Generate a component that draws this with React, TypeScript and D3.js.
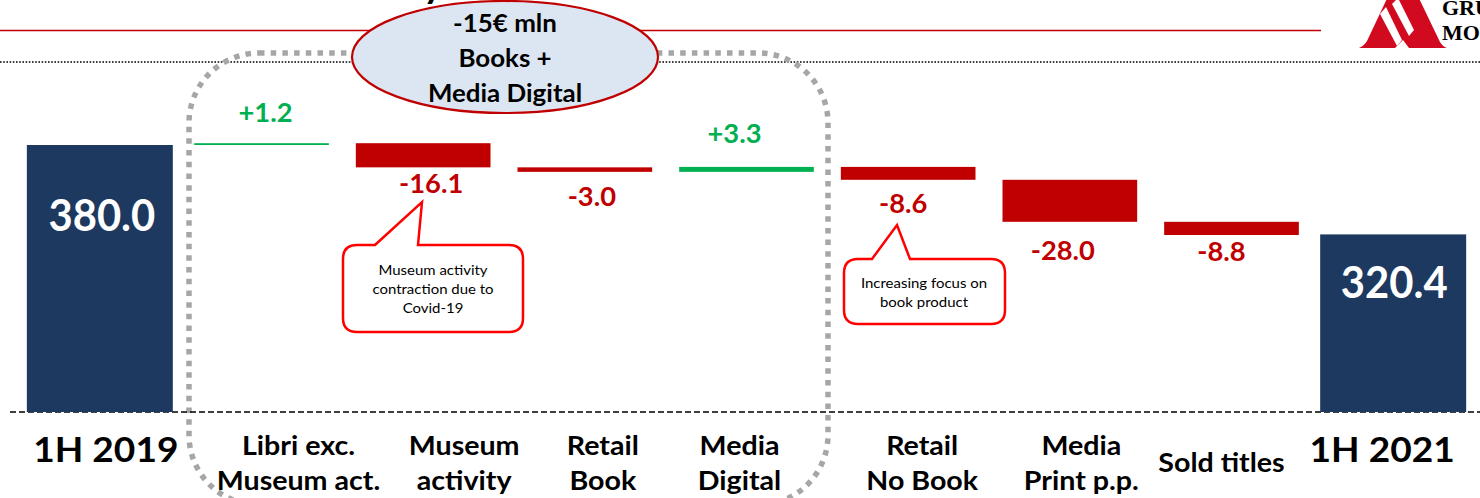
import React from "react";
import * as d3 from "d3";

// ---------- data ----------
const categoryLines: string[][] = [
  ["1H 2019"],
  ["Libri exc.", "Museum act."],
  ["Museum", "activity"],
  ["Retail", "Book"],
  ["Media", "Digital"],
  ["Retail", "No Book"],
  ["Media", "Print p.p."],
  ["Sold titles"],
  ["1H 2021"],
];
const barKinds = ["total", "delta", "delta", "delta", "delta", "delta", "delta", "delta", "total"];
const values = [380.0, 1.2, -16.1, -3.0, 3.3, -8.6, -28.0, -8.8, 320.4];
const valueLabels = ["380.0", "+1.2", "-16.1", "-3.0", "+3.3", "-8.6", "-28.0", "-8.8", "320.4"];
const axisFloor = 202;
const ellipseLines = ["-15€ mln", "Books +", "Media Digital"];
const callout1Lines = ["Museum activity", "contraction due to", "Covid-19"];
const callout2Lines = ["Increasing focus on", "book product"];

// ---------- layout tweaks (label nudges, not data) ----------
const valueDx = [2, 4, 8, 7, -12, -5, -7, -10, 1];
const valueDy = [86, -21, 26, 34, -24, 33, 38, 26, 64];
const catDx = [6, 37, 41, 18, -7, 14, 11.5, -10, -11];

const W = 1480;
const H = 498;
const FONT = "Lato, 'Open Sans', sans-serif";
const NAVY = "#1d3960";
const RED = "#c00000";
const GREEN = "#00b050";

function SText(props: any) {
  const { x, y, sx = 1, anchor = "middle", children, ...rest } = props;
  return (
    <text
      transform={`translate(${x},${y}) scale(${sx},1)`}
      textAnchor={anchor}
      fontFamily={FONT}
      {...rest}
    >
      {children}
    </text>
  );
}

function calloutPath(x0: number, y0: number, x1: number, y1: number, r: number, pa: number, tipX: number, tipY: number, pb: number) {
  return [
    `M${x0 + r},${y0}`,
    `L${pa},${y0}`,
    `L${tipX},${tipY}`,
    `L${pb},${y0}`,
    `L${x1 - r},${y0}`,
    `Q${x1},${y0} ${x1},${y0 + r}`,
    `L${x1},${y1 - r}`,
    `Q${x1},${y1} ${x1 - r},${y1}`,
    `L${x0 + r},${y1}`,
    `Q${x0},${y1} ${x0},${y1 - r}`,
    `L${x0},${y0 + r}`,
    `Q${x0},${y0} ${x0 + r},${y0}`,
    "Z",
  ].join(" ");
}

export default function App() {
  const ids = values.map((_, i) => String(i));
  const x = d3.scaleBand().domain(ids).range([19, 1474]).paddingInner(0).paddingOuter(0);
  const y = d3.scaleLinear().domain([axisFloor, d3.max(values) as number]).range([412, 145]);

  // waterfall
  let running = 0;
  const bars = values.map((v, i) => {
    let lo: number, hi: number;
    if (barKinds[i] === "total") {
      lo = axisFloor;
      hi = v;
      running = v;
    } else {
      const start = running;
      const end = running + v;
      lo = Math.min(start, end);
      hi = Math.max(start, end);
      running = end;
    }
    const bw = x.bandwidth() * (barKinds[i] === "total" ? 0.903 : 0.833);
    const cx = (x(String(i)) as number) + x.bandwidth() / 2;
    return {
      i,
      v,
      cx,
      x: cx - bw / 2,
      w: bw,
      top: y(hi),
      bottom: y(lo),
      color: barKinds[i] === "total" ? NAVY : v >= 0 ? GREEN : RED,
    };
  });

  const baseY = y(axisFloor);

  return (
    <svg
      width={W}
      height={H}
      viewBox={`0 0 ${W} ${H}`}
      style={{ position: "absolute", left: 0, top: 0, background: "#fff" }}
    >
      <rect x={0} y={0} width={W} height={H} fill="#fff" />

      {/* clipped title remnant */}
      <SText x={433} y={-2} fontSize={38} fontWeight={700} fill="#000">y</SText>

      {/* header lines */}
      <line x1={0} x2={1321} y1={30.5} y2={30.5} stroke={RED} strokeWidth={1.5} />
      <line x1={0} x2={W} y1={62} y2={62} stroke="#000" strokeWidth={1.6} strokeDasharray="1.6 1.6" />

      {/* logo */}
      <g>
        <path d="M1392,-12 L1414,-12 L1440,42 Q1443,47 1447,48 L1409,48 L1403,40 L1395,48 L1359,48 Q1364,46 1367,41 Z" fill="#d20a20" />
        <path d="M1380,14 L1386,7 L1402,40 L1397,46 Z" fill="#fff" />
        <path d="M1392,4 L1398,-2 L1414,30 L1409,36 Z" fill="#fff" />
        <text x={1442} y={14.5} fontFamily="'Liberation Serif', 'DejaVu Serif', serif" fontWeight={700} fontSize={22} fill="#000">GRUPPO</text>
        <text x={1442} y={39.5} fontFamily="'Liberation Serif', 'DejaVu Serif', serif" fontWeight={700} fontSize={22} fill="#000">MONDADORI</text>
      </g>

      {/* dotted grouping frame */}
      <rect x={189} y={53} width={639} height={452} rx={70} ry={70} fill="none" stroke="#a6a6a6" strokeWidth={5.5} strokeDasharray="5.5 6.2" />

      {/* baseline */}
      <line x1={10} x2={W} y1={baseY} y2={baseY} stroke="#000" strokeWidth={1.6} strokeDasharray="6 3" />

      {/* bars */}
      {bars.map((b) => (
        <rect key={b.i} x={b.x} y={b.top} width={b.w} height={Math.max(b.bottom - b.top, 1.3)} fill={b.color} />
      ))}

      {/* value labels */}
      {bars.map((b) => {
        const isTotal = barKinds[b.i] === "total";
        const anchorY = isTotal ? b.top : b.v >= 0 ? b.top : b.bottom;
        return (
          <SText
            key={"v" + b.i}
            x={b.cx + valueDx[b.i]}
            y={anchorY + valueDy[b.i]}
            sx={isTotal ? 0.95 : 1.05}
            fontSize={isTotal ? 44 : 26}
            fontWeight={700}
            fill={isTotal ? "#fff" : b.color}
          >
            {valueLabels[b.i]}
          </SText>
        );
      })}

      {/* category labels */}
      {bars.map((b) => {
        const lines = categoryLines[b.i];
        const isTotal = barKinds[b.i] === "total";
        const cx = b.cx + catDx[b.i];
        if (isTotal) {
          return (
            <SText key={"c" + b.i} x={cx} y={462} sx={1.06} fontSize={35} fontWeight={700} fill="#000">
              {lines[0]}
            </SText>
          );
        }
        if (lines.length === 1) {
          return (
            <SText key={"c" + b.i} x={cx} y={472} sx={1.1} fontSize={26} fontWeight={700} fill="#000">
              {lines[0]}
            </SText>
          );
        }
        return (
          <g key={"c" + b.i}>
            {lines.map((t, k) => (
              <SText key={k} x={cx} y={455 + k * 35} sx={1.1} fontSize={26} fontWeight={700} fill="#000">
                {t}
              </SText>
            ))}
          </g>
        );
      })}

      {/* ellipse annotation */}
      <ellipse cx={505} cy={57} rx={153} ry={56} fill="#dce6f2" stroke={RED} strokeWidth={2.2} />
      {ellipseLines.map((t, k) => (
        <SText key={"e" + k} x={505} y={32 + k * 35} sx={1.08} fontSize={24} fontWeight={700} fill="#000">
          {t}
        </SText>
      ))}

      {/* callout 1 */}
      <path d={calloutPath(343, 245, 523, 332, 14, 375, 422, 202, 418)} fill="#fff" stroke="#ff0000" strokeWidth={2.5} />
      {callout1Lines.map((t, k) => (
        <SText key={"a" + k} x={433} y={275 + k * 19} sx={1.07} fontSize={14} fill="#000">
          {t}
        </SText>
      ))}

      {/* callout 2 */}
      <path d={calloutPath(844, 259, 1005, 324, 14, 872, 897, 225, 910)} fill="#fff" stroke="#ff0000" strokeWidth={2.5} />
      {callout2Lines.map((t, k) => (
        <SText key={"b" + k} x={924} y={288 + k * 19} sx={1.07} fontSize={14} fill="#000">
          {t}
        </SText>
      ))}
    </svg>
  );
}
